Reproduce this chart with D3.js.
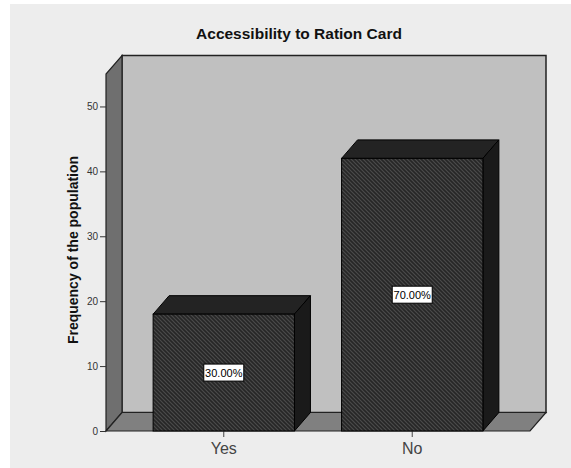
<!DOCTYPE html>
<html>
<head>
<meta charset="utf-8">
<script src="https://cdn.jsdelivr.net/npm/d3@7"></script>
<style>
  html, body { margin: 0; padding: 0; background: #ffffff; }
  svg { display: block; }
  text { font-family: "Liberation Sans", Arial, sans-serif; }
</style>
</head>
<body>
<script>
// Data
const categories = ["Yes", "No"];
const frequencies = [18, 42];
const percentLabels = ["30.00%", "70.00%"];
const yTicks = [0, 10, 20, 30, 40, 50];
const chartTitle = "Accessibility to Ration Card";
const yTitle = "Frequency of the population";

const W = 571, H = 468;
const svg = d3.select("body").append("svg").attr("width", W).attr("height", H);

// 3D depth offset for walls and bars
const dx = 16, dy = -18.5;

const x = d3.scaleBand().domain(categories).range([106, 530]).paddingInner(0.25).paddingOuter(0.25);
const y = d3.scaleLinear().domain([0, 55]).range([431, 74]);

const defs = svg.append("defs");
const pat = defs.append("pattern")
  .attr("id", "hatch").attr("patternUnits", "userSpaceOnUse")
  .attr("width", 4).attr("height", 4);
pat.append("rect").attr("width", 4).attr("height", 4).attr("fill", "#262626");
pat.append("path").attr("d", "M-1,-1 L5,5 M-1,3 L1,5 M3,-1 L5,1")
  .attr("stroke", "#4a4a4a").attr("stroke-width", 1.2);

// Page background
svg.append("rect").attr("x", 10).attr("y", 4).attr("width", W - 10).attr("height", H - 4)
  .attr("fill", "#ededed");

// Title
svg.append("text").attr("x", 299).attr("y", 39).attr("text-anchor", "middle")
  .attr("font-size", 15.5).attr("font-weight", "bold").attr("fill", "#111").text(chartTitle);

const x0 = 106, x1 = 530, yb = y(0), yt = y(55);

// Back wall
svg.append("rect").attr("x", x0 + dx).attr("y", yt + dy)
  .attr("width", x1 - x0).attr("height", yb - yt)
  .attr("fill", "#c0c0c0").attr("stroke", "#222").attr("stroke-width", 1.5);

// Left side wall
svg.append("polygon")
  .attr("points", [[x0, yb], [x0 + dx, yb + dy], [x0 + dx, yt + dy], [x0, yt]].map(p => p.join(",")).join(" "))
  .attr("fill", "#6f6f6f").attr("stroke", "#222").attr("stroke-width", 1.2);

// Floor
svg.append("polygon")
  .attr("points", [[x0, yb], [x0 + dx, yb + dy], [x1 + dx, yb + dy], [x1, yb]].map(p => p.join(",")).join(" "))
  .attr("fill", "#808080").attr("stroke", "#222").attr("stroke-width", 1.2);

// Y axis ticks and labels
const yAxis = d3.axisLeft(y).tickValues(yTicks).tickSize(6).tickPadding(2).tickFormat(d3.format("d"));
const ya = svg.append("g").attr("transform", `translate(${x0},0)`).call(yAxis);
ya.select(".domain").remove();
ya.selectAll(".tick line").attr("stroke", "#333");
ya.selectAll(".tick text").attr("font-size", 10).attr("fill", "#333")
  .style("font-family", "'Liberation Sans', Arial, sans-serif");

// X axis ticks and labels
const xAxis = d3.axisBottom(x).tickSize(6).tickPadding(6);
const xa = svg.append("g").attr("transform", `translate(0,${yb})`).call(xAxis);
xa.select(".domain").remove();
xa.selectAll(".tick line").attr("stroke", "#444");
xa.selectAll(".tick text").attr("font-size", 16).attr("fill", "#444")
  .style("font-family", "'Liberation Sans', Arial, sans-serif");

// Y title
svg.append("text").attr("transform", "translate(78,250) rotate(-90)")
  .attr("text-anchor", "middle").attr("font-size", 14).attr("font-weight", "bold")
  .attr("fill", "#111").text(yTitle);

// Bars
const bars = svg.append("g").selectAll("g").data(categories).join("g");
bars.each(function(c, i) {
  const g = d3.select(this);
  const bx = x(c), bw = x.bandwidth(), yv = y(frequencies[i]);
  const P = pts => pts.map(p => p.join(",")).join(" ");
  g.append("polygon").attr("points", P([[bx, yv], [bx + dx, yv + dy], [bx + bw + dx, yv + dy], [bx + bw, yv]]))
    .attr("fill", "#232323").attr("stroke", "#000").attr("stroke-width", 1);
  g.append("polygon").attr("points", P([[bx + bw, yv], [bx + bw + dx, yv + dy], [bx + bw + dx, yb + dy], [bx + bw, yb]]))
    .attr("fill", "#1a1a1a").attr("stroke", "#000").attr("stroke-width", 1);
  g.append("rect").attr("x", bx).attr("y", yv).attr("width", bw).attr("height", yb - yv)
    .attr("fill", "url(#hatch)").attr("stroke", "#000").attr("stroke-width", 1);

  // Percentage label box
  const cx = bx + bw / 2, cy = (yv + yb) / 2;
  g.append("rect").attr("x", cx - 20).attr("y", cy - 8.5).attr("width", 40).attr("height", 17)
    .attr("fill", "#fff").attr("stroke", "#000").attr("stroke-width", 1);
  g.append("text").attr("x", cx).attr("y", cy + 4).attr("text-anchor", "middle")
    .attr("font-size", 11).attr("fill", "#000").text(percentLabels[i]);
});
</script>
</body>
</html>
